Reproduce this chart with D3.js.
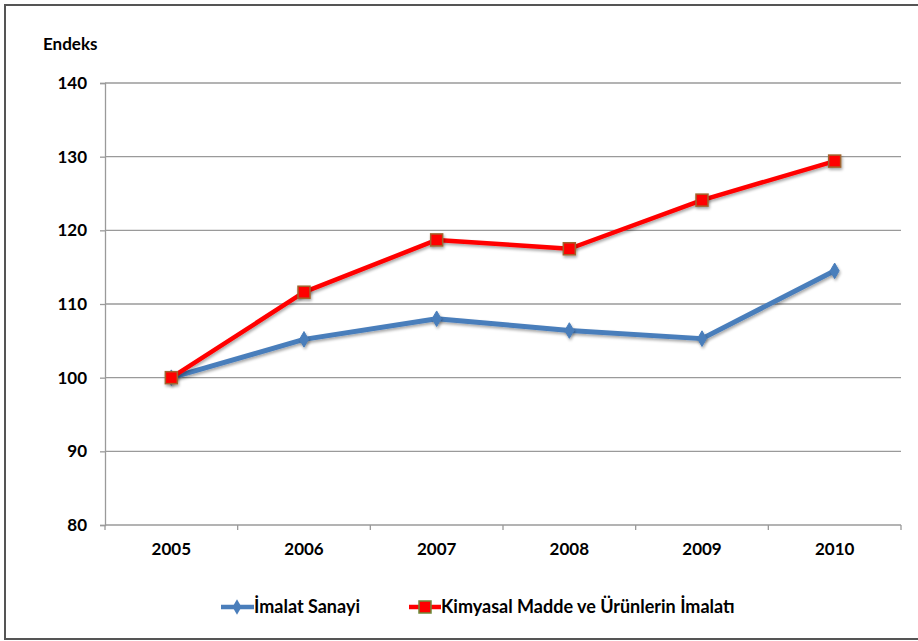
<!DOCTYPE html>
<html><head><meta charset="utf-8">
<script src="https://cdn.jsdelivr.net/npm/d3@7"></script>
<style>
html,body{margin:0;padding:0;background:#fff;}
svg{display:block;}
text{font-family:Lato,"Open Sans",sans-serif;font-weight:bold;fill:#000;}
</style></head>
<body>
<svg id="chart" width="918" height="641"></svg>
<script>
const years = ["2005","2006","2007","2008","2009","2010"];
const imalatSanayi = [100, 105.2, 108.0, 106.4, 105.3, 114.5];
const kimyasal = [100, 111.6, 118.7, 117.5, 124.1, 129.4];
const yTicks = [80, 90, 100, 110, 120, 130, 140];
const seriesNames = ["İmalat Sanayi", "Kimyasal Madde ve Ürünlerin İmalatı"];
const yTitle = "Endeks";

const svg = d3.select("#chart");
const plotL = 105, plotR = 901, plotT = 83, plotB = 525;
const FS = "17px", LFS = "18px";

// outer border
svg.append("rect").attr("x",5).attr("y",5).attr("width",930).attr("height",634)
  .attr("fill","none").attr("stroke","#555").attr("stroke-width",2);

const x = d3.scaleBand().domain(years).range([plotL, plotR]).padding(0);
const y = d3.scaleLinear().domain([80,140]).range([plotB, plotT]);

// gridlines
svg.append("g").selectAll("line").data(yTicks.filter(d=>d>80)).join("line")
  .attr("x1",plotL).attr("x2",plotR)
  .attr("y1",d=>y(d)).attr("y2",d=>y(d))
  .attr("stroke","#9a9a9a").attr("stroke-width",1.3);

// y axis
const yAxis = d3.axisLeft(y).tickValues(yTicks).tickSize(5).tickPadding(13).tickFormat(d3.format("d"));
const gy = svg.append("g").attr("transform",`translate(${plotL},0)`).call(yAxis);
gy.select(".domain").attr("stroke","#9a9a9a").attr("stroke-width",1.3);
gy.selectAll(".tick line").attr("stroke","#9a9a9a").attr("stroke-width",1.3);
gy.selectAll("text").style("font-size",FS).attr("fill","#000");

// x axis
const boundaries = years.map(d=>x(d)).concat([plotR]);
svg.append("line").attr("x1",plotL).attr("x2",plotR).attr("y1",plotB).attr("y2",plotB)
  .attr("stroke","#9a9a9a").attr("stroke-width",1.3);
svg.append("g").selectAll("line").data(boundaries).join("line")
  .attr("x1",d=>d).attr("x2",d=>d).attr("y1",plotB).attr("y2",plotB+5)
  .attr("stroke","#9a9a9a").attr("stroke-width",1.3);
svg.append("g").selectAll("text").data(years).join("text")
  .attr("x",d=>x(d)+x.bandwidth()/2).attr("y",plotB+30)
  .attr("text-anchor","middle").style("font-size",FS).text(d=>d);

// y title
svg.append("text").attr("x",43).attr("y",50).style("font-size",FS).text(yTitle);

// shadow filter
const defs = svg.append("defs");
const f = defs.append("filter").attr("id","sh").attr("x","-50%").attr("y","-50%").attr("width","200%").attr("height","200%");
f.append("feGaussianBlur").attr("in","SourceAlpha").attr("stdDeviation",1.5).attr("result","b");
f.append("feOffset").attr("in","b").attr("dx",1).attr("dy",1.5).attr("result","o");
f.append("feComponentTransfer").attr("in","o").attr("result","o2")
  .append("feFuncA").attr("type","linear").attr("slope",0.35);
const mg = f.append("feMerge");
mg.append("feMergeNode").attr("in","o2");
mg.append("feMergeNode").attr("in","SourceGraphic");

const cx = d => x(d)+x.bandwidth()/2;
const line = d3.line().x((d,i)=>cx(years[i])).y(d=>y(d));

const blue = "#4A7EBB", red = "#FF0000";

// blue series
svg.append("path").datum(imalatSanayi).attr("d",line).attr("fill","none")
  .attr("stroke",blue).attr("stroke-width",5).attr("stroke-linejoin","round").attr("filter","url(#sh)");
const diamond = d3.symbol().type(d3.symbolDiamond).size(70);
svg.append("g").selectAll("path").data(imalatSanayi).join("path")
  .attr("d",diamond).attr("transform",(d,i)=>`translate(${cx(years[i])},${y(d)})`)
  .attr("fill",blue).attr("stroke",blue).attr("stroke-width",1).attr("filter","url(#sh)");

// red series
svg.append("path").datum(kimyasal).attr("d",line).attr("fill","none")
  .attr("stroke",red).attr("stroke-width",4.5).attr("stroke-linejoin","round").attr("filter","url(#sh)");
svg.append("g").selectAll("rect").data(kimyasal).join("rect")
  .attr("x",(d,i)=>cx(years[i])-6).attr("y",d=>y(d)-6).attr("width",12).attr("height",12)
  .attr("fill",red).attr("stroke","#A0642D").attr("stroke-width",1.5).attr("filter","url(#sh)");

// legend
const ly = 607;
const lg = svg.append("g");
lg.append("line").attr("x1",221).attr("x2",254).attr("y1",ly).attr("y2",ly)
  .attr("stroke",blue).attr("stroke-width",4.5);
lg.append("path").attr("d",diamond).attr("transform",`translate(237,${ly})`).attr("fill",blue);
lg.append("text").attr("x",254).attr("y",ly+6).style("font-size",LFS).text(seriesNames[0]);
lg.append("line").attr("x1",409).attr("x2",441).attr("y1",ly).attr("y2",ly)
  .attr("stroke",red).attr("stroke-width",4.5);
lg.append("rect").attr("x",419).attr("y",ly-6).attr("width",12).attr("height",12)
  .attr("fill",red).attr("stroke","#6E8A3A").attr("stroke-width",1.5);
lg.append("text").attr("x",441).attr("y",ly+6).style("font-size",LFS).text(seriesNames[1]);
</script>
</body></html>
